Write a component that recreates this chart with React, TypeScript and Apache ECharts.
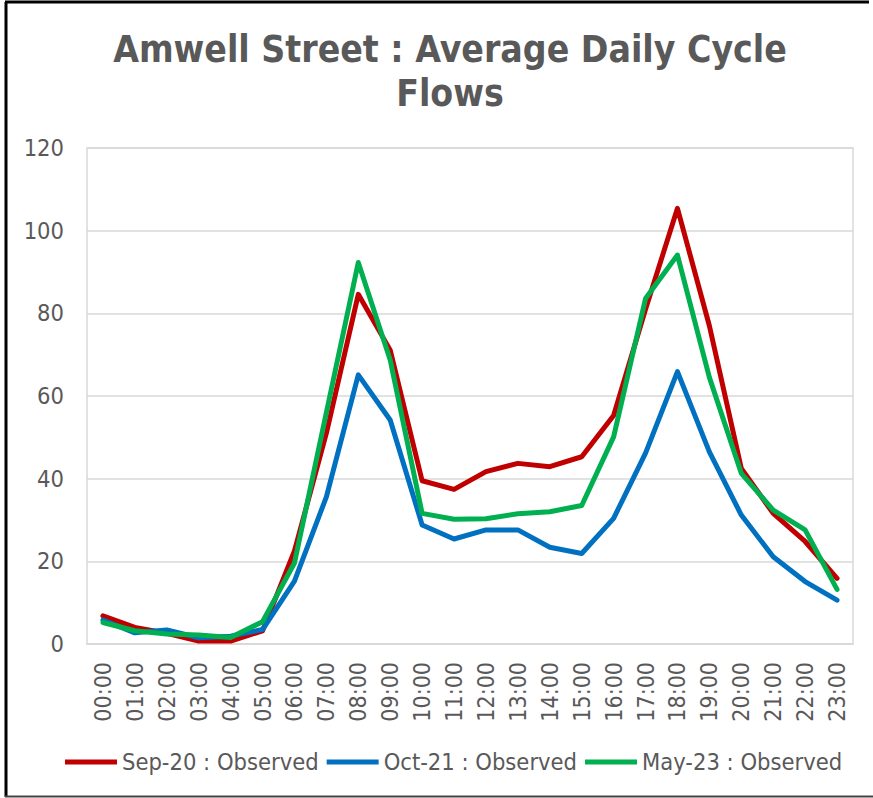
import React, { useEffect, useRef } from "react";
import * as echarts from "echarts";

const hours = ["00:00","01:00","02:00","03:00","04:00","05:00","06:00","07:00","08:00","09:00","10:00","11:00","12:00","13:00","14:00","15:00","16:00","17:00","18:00","19:00","20:00","21:00","22:00","23:00"];
const sep20 = [6.8, 4.0, 2.6, 0.7, 0.7, 3.2, 22.5, 51, 84.6, 71.1, 39.5, 37.4, 41.7, 43.7, 42.9, 45.3, 55.3, 81, 105.4, 77, 42.5, 31.6, 24.8, 15.9];
const oct21 = [5.8, 2.7, 3.4, 1.5, 1.9, 3.5, 15.2, 35.6, 65.1, 54.2, 28.8, 25.4, 27.6, 27.6, 23.4, 21.9, 30.4, 46.2, 65.9, 46.5, 31.2, 21.1, 15.1, 10.6];
const may23 = [5.2, 3.2, 2.4, 2.2, 1.6, 5.4, 19.6, 56, 92.3, 68.7, 31.6, 30.2, 30.3, 31.5, 32.0, 33.5, 50.1, 83.6, 94.1, 64.5, 41.3, 32.4, 27.6, 13.2];
const seriesNames = ["Sep-20 : Observed", "Oct-21 : Observed", "May-23 : Observed"];
const seriesColors = ["#C00000", "#0070C0", "#00B050"];
const titleText = "Amwell Street : Average Daily Cycle\nFlows";

const FONT = "'DejaVu Sans Condensed', 'Liberation Sans Narrow', 'DejaVu Sans', sans-serif";
const TEXT = "#595959";

export default function App() {
  const ref = useRef<HTMLDivElement>(null);
  useEffect(() => {
    document.body.style.margin = "0";
    const chart = echarts.init(ref.current!, null, { renderer: "svg" });
    const data = [sep20, oct21, may23];
    chart.setOption({
      animation: false,
      backgroundColor: "#fff",
      textStyle: { fontFamily: FONT },
      title: {
        text: titleText,
        left: 445,
        top: 22,
        textAlign: "center",
        textStyle: { fontFamily: FONT, fontWeight: "bold", fontSize: 37, color: TEXT, lineHeight: 44 },
      },
      grid: { left: 87, right: 20, top: 148, bottom: 154, show: true, borderColor: "#d9d9d9", borderWidth: 1.5 },
      legend: {
        data: seriesNames,
        bottom: 19,
        left: 60,
        icon: "rect",
        itemWidth: 52,
        itemHeight: 5,
        itemGap: 8,
        textStyle: { fontFamily: FONT, fontSize: 23.5, color: TEXT },
      },
      xAxis: {
        type: "category",
        data: hours,
        boundaryGap: true,
        axisLine: { show: true, lineStyle: { color: "#d9d9d9", width: 1.5 } },
        axisTick: { show: false },
        axisLabel: { rotate: 90, margin: 18, color: TEXT, fontSize: 23, fontFamily: FONT, interval: 0 },
      },
      yAxis: {
        type: "value",
        min: 0,
        max: 120,
        interval: 20,
        axisLine: { show: false },
        axisTick: { show: false },
        splitLine: { lineStyle: { color: "#d9d9d9", width: 1.5 } },
        axisLabel: { margin: 23, color: TEXT, fontSize: 23.5, fontFamily: FONT },
      },
      series: seriesNames.map((n, i) => ({
        name: n,
        type: "line",
        data: data[i],
        symbol: "none",
        color: seriesColors[i],
        lineStyle: { width: 5, color: seriesColors[i], cap: "round", join: "round" },
      })),
      graphic: [
        { type: "line", shape: { x1: 6, y1: 2, x2: 6, y2: 797 }, style: { stroke: "#000", lineWidth: 3 } },
        { type: "line", shape: { x1: 5, y1: 2, x2: 869, y2: 2 }, style: { stroke: "#000", lineWidth: 3 } },
        { type: "line", shape: { x1: 5, y1: 796.5, x2: 873, y2: 796.5 }, style: { stroke: "#444", lineWidth: 2 } },
      ],
    });
    return () => chart.dispose();
  }, []);
  return <div ref={ref} style={{ width: 873, height: 798 }} />;
}
